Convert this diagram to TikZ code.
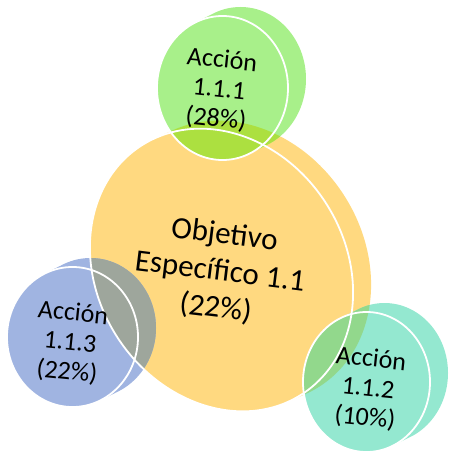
\documentclass[tikz,border=0pt]{standalone}
\usepackage{fontspec}
\setmainfont{Carlito}
\usetikzlibrary{positioning}

\definecolor{objfill}{RGB}{255,217,128}
\definecolor{accfill}{RGB}{168,240,138}
\definecolor{accfillb}{RGB}{148,232,208}
\definecolor{accfillc}{RGB}{160,180,225}
\definecolor{mixa}{RGB}{172,224,64}
\definecolor{mixb}{RGB}{146,216,140}
\definecolor{mixc}{RGB}{158,166,156}

\begin{document}
\begin{tikzpicture}[x=1pt,y=-1pt]
    \tikzstyle{ring} = [draw=white, line width=1.8pt];
    \tikzstyle{bigtext} = [align=center, font=\fontsize{31}{37}\selectfont, rotate=-7];
    \tikzstyle{smalltext} = [align=center, font=\fontsize{26}{29.5}\selectfont, rotate=-6];

    \useasboundingbox (0,0) rectangle (451,452);

    % bodies
    \fill[objfill] \foreach \t in {0,0.25,0.5,0.75,1}
        {[rotate around={33:({221.5+18*\t},{270-8*\t})}] ({221.5+18*\t},{270-8*\t}) ellipse [x radius=124, y radius=148]};
    \fill[accfill] \foreach \t in {0,0.25,0.5,0.75,1}
        {({222.5+18*\t},{88-9*\t}) ellipse [x radius=65.5, y radius=72]};
    \fill[accfillb] \foreach \t in {0,0.25,0.5,0.75,1}
        {({366.5+18*\t},{382-9*\t}) ellipse [x radius=63.5, y radius=70]};
    \fill[accfillc] \foreach \t in {0,0.25,0.5,0.75,1}
        {({72.5+18*\t},{337-9*\t}) ellipse [x radius=65.5, y radius=70]};

    % overlaps
    \begin{scope}
        \clip \foreach \t in {0,0.25,0.5,0.75,1}
            {[rotate around={33:({221.5+18*\t},{270-8*\t})}] ({221.5+18*\t},{270-8*\t}) ellipse [x radius=124, y radius=148]};
        \fill[mixa] \foreach \t in {0,0.25,0.5,0.75,1}
            {({222.5+18*\t},{88-9*\t}) ellipse [x radius=65.5, y radius=72]};
        \fill[mixb] \foreach \t in {0,0.25,0.5,0.75,1}
            {({366.5+18*\t},{382-9*\t}) ellipse [x radius=63.5, y radius=70]};
        \fill[mixc] \foreach \t in {0,0.25,0.5,0.75,1}
            {({72.5+18*\t},{337-9*\t}) ellipse [x radius=65.5, y radius=70]};
    \end{scope}

    % front rings
    \draw[ring, rotate around={33:(221.5,270)}] (221.5,270) ellipse [x radius=124, y radius=148];
    \draw[ring] (222.5,88) ellipse [x radius=65.5, y radius=72];
    \draw[ring] (366.5,382) ellipse [x radius=63.5, y radius=70];
    \draw[ring] (72.5,337) ellipse [x radius=65.5, y radius=70];

    \node[bigtext](OBJ) at (220,272) {Objetivo\\Específico 1.1\\(22\%)};
    \node[smalltext](A1) at (219,90) {Acción\\1.1.1\\(28\%)};
    \node[smalltext](A2) at (368,389) {Acción\\1.1.2\\(10\%)};
    \node[smalltext](A3) at (70,343) {Acción\\1.1.3\\(22\%)};
\end{tikzpicture}
\end{document}
